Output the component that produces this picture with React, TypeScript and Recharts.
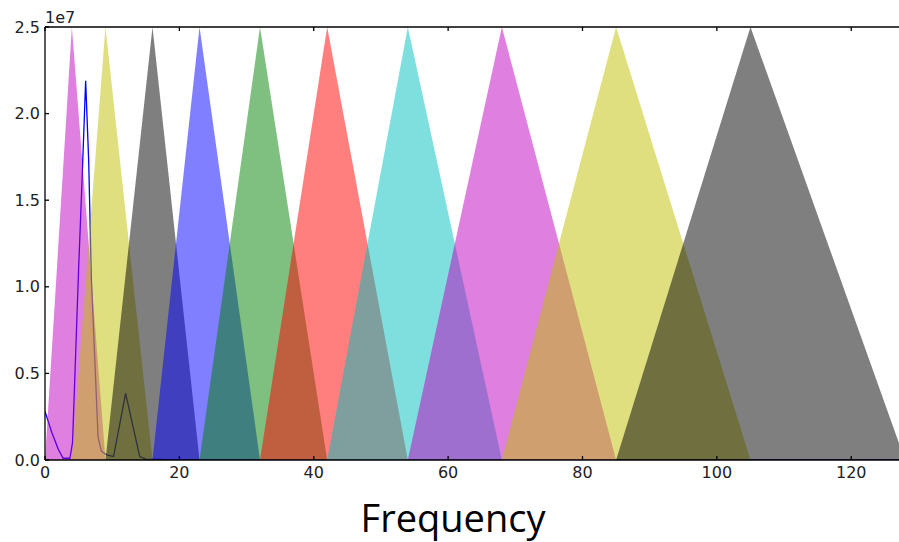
import {
  ComposedChart,
  Area,
  XAxis,
  YAxis,
} from "recharts";

// mel-style filter edges (bin positions), each filter spans edges[i]..edges[i+2]
const BIN_EDGES = [0, 4, 9, 16, 23, 32, 42, 54, 68, 85, 105, 128];
const FILTER_PEAK = 2.5e7;
const FILTER_COLORS = [
  "#bf00bf", "#bfbf00", "#000000", "#0000ff", "#008000",
  "#ff0000", "#00bfbf", "#bf00bf", "#bfbf00", "#000000",
];

// spectrum line (values in units of 1e7)
const SPECTRUM_FREQ = [0, 1, 2, 2.7, 3.7, 4.1, 5, 5.5, 6.05, 6.5, 6.9, 7.9, 8.4, 9.2, 10.2, 12, 14.1, 15, 20, 128];
const SPECTRUM_VALUE = [0.28, 0.16, 0.06, 0.01, 0.01, 0.1, 1.1, 1.6, 2.19, 1.73, 1.05, 0.13, 0.05, 0.03, 0.02, 0.385, 0.02, 0.005, 0, 0];

const X_TICKS = [0, 20, 40, 60, 80, 100, 120];
const Y_TICKS = [0, 0.5e7, 1e7, 1.5e7, 2e7, 2.5e7];

const spectrum = SPECTRUM_FREQ.map((x, i) => ({ x, v: SPECTRUM_VALUE[i] * 1e7 }));

const filters = FILTER_COLORS.map((color, i) => ({
  color,
  data: [
    { x: BIN_EDGES[i], v: 0 },
    { x: BIN_EDGES[i + 1], v: FILTER_PEAK },
    { x: BIN_EDGES[i + 2], v: 0 },
  ],
}));

const tickStyle = { fontFamily: "DejaVu Sans", fontSize: 16, fill: "#222" };

export default function App() {
  return (
    <div
      style={{
        position: "absolute",
        left: 0,
        top: 0,
        width: 899,
        height: 542,
        overflow: "hidden",
        background: "#fff",
      }}
    >
      <ComposedChart
        width={910}
        height={542}
        margin={{ top: 0, right: 5, bottom: 0, left: 0 }}
      >
        <XAxis
          xAxisId="top"
          orientation="top"
          dataKey="x"
          type="number"
          domain={[0, 128]}
          ticks={X_TICKS}
          allowDataOverflow
          height={27}
          tickSize={-4}
          tickFormatter={() => ""}
          stroke="#000"
          strokeWidth={1.3}
        />
        <XAxis
          dataKey="x"
          type="number"
          domain={[0, 128]}
          ticks={X_TICKS}
          allowDataOverflow
          height={82}
          tickSize={-4}
          tickMargin={11}
          tick={tickStyle}
          stroke="#000"
          strokeWidth={1.3}
          label={{
            value: "Frequency",
            position: "insideBottom",
            offset: 10,
            dx: -22,
            style: { fontFamily: "Open Sans", fontSize: 38, fill: "#000" },
          }}
        />
        <YAxis
          type="number"
          domain={[0, FILTER_PEAK]}
          ticks={Y_TICKS}
          allowDataOverflow
          width={45}
          tickSize={-4}
          tickMargin={9}
          tick={tickStyle}
          tickFormatter={(v: number) => (v / 1e7).toFixed(1)}
          stroke="#000"
          strokeWidth={1.3}
          label={{
            content: () => (
              <text x={45} y={23} fontFamily="DejaVu Sans" fontSize={16} fill="#222">
                1e7
              </text>
            ),
          }}
        />
        {/* spectrum drawn first so the translucent filters sit over it */}
        <Area
          data={spectrum}
          dataKey="v"
          type="linear"
          stroke="#0000ff"
          strokeWidth={1.3}
          fill="none"
          fillOpacity={0}
          dot={false}
          activeDot={false}
          isAnimationActive={false}
        />
        {filters.map((f, i) => (
          <Area
            key={i}
            data={f.data}
            dataKey="v"
            type="linear"
            stroke="none"
            fill={f.color}
            fillOpacity={0.5}
            baseValue={0}
            dot={false}
            activeDot={false}
            isAnimationActive={false}
          />
        ))}
      </ComposedChart>
    </div>
  );
}
